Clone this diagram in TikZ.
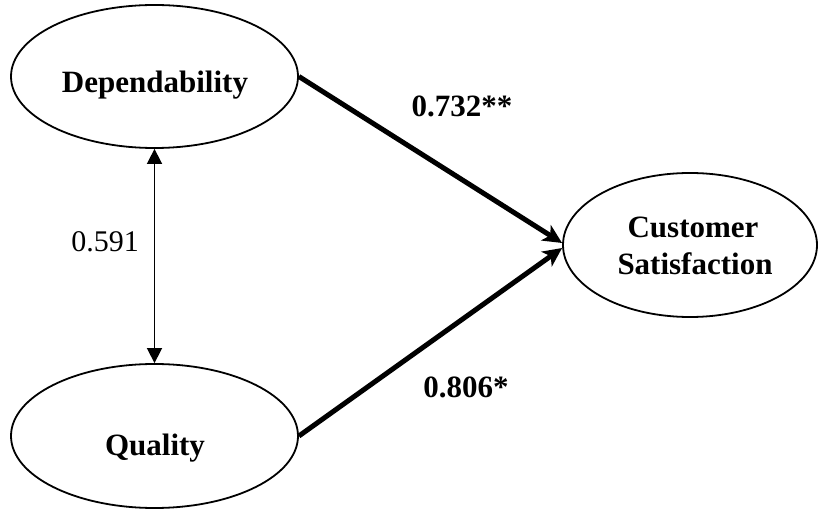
\documentclass[tikz,border=0pt]{standalone}
\usepackage{fontspec}
\setmainfont{Liberation Serif}
\usetikzlibrary{arrows.meta,shapes.geometric}
\begin{document}
\begin{tikzpicture}[x=1pt,y=-1pt,
  latent/.style={draw=black,line width=1.8pt,ellipse,inner sep=0pt},
  lbl/.style={font=\fontsize{31}{37}\selectfont\bfseries,anchor=base,inner sep=0pt},
  coef/.style={font=\fontsize{31}{37}\selectfont\bfseries,anchor=base,inner sep=0pt},
  corr/.style={font=\fontsize{30}{36}\selectfont,anchor=base,inner sep=0pt},
  path/.style={line width=5pt,-{Stealth[length=19pt,width=18pt,inset=5pt]}},
  cov/.style={line width=1.6pt,{Triangle[length=15pt,width=15pt]}-{Triangle[length=15pt,width=15pt]}}]
\useasboundingbox (0,0) rectangle (819,510);
\node[latent,minimum width=287pt,minimum height=143pt] (dep) at (154.5,76.5) {};
\node[latent,minimum width=287pt,minimum height=144pt] (qua) at (154.5,436) {};
\node[latent,minimum width=254pt,minimum height=144pt] (cs) at (690,245) {};
\node[lbl] (deplbl) at (155,93) {Dependability};
\node[lbl] (qualbl) at (155,455) {Quality};
\node[lbl] (cs1) at (693,238) {Customer};
\node[lbl] (cs2) at (695,275) {Satisfaction};
\coordinate (in1) at ([yshift=2pt]cs.west);
\coordinate (in2) at ([yshift=-3pt]cs.west);
\draw[path] (dep.east) -- (in1);
\draw[path] (qua.east) -- (in2);
\draw[cov] (dep.south) -- (qua.north);
\node[coef] (c1) at (462,117) {0.732**};
\node[coef] (c2) at (466,397) {0.806*};
\node[corr] (c3) at (105,252) {0.591};
\end{tikzpicture}
\end{document}
